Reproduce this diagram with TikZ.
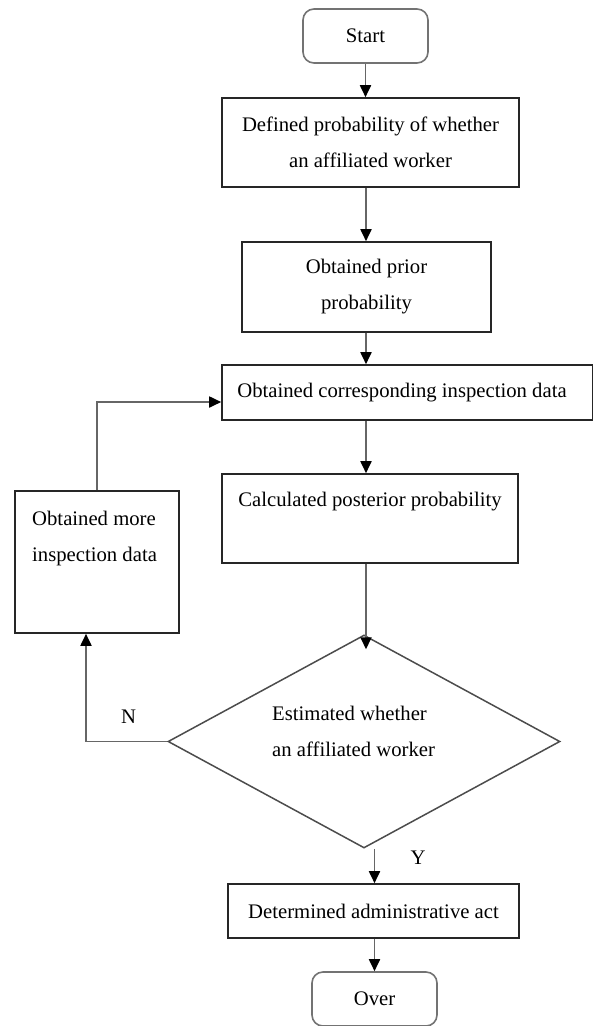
\documentclass[tikz,border=0pt]{standalone}
\usepackage{fontspec}
\setmainfont{Liberation Serif}
\usetikzlibrary{shapes, arrows.meta, positioning}

\begin{document}
\begin{tikzpicture}[x=1pt, y=-1pt,
        every node/.style={font=\fontsize{20.7}{36}\selectfont, inner sep=0pt},
        box/.style={draw=black!85, line width=1.6pt, rectangle},
        term/.style={draw=black!55, line width=1.6pt, rectangle, rounded corners=11pt, minimum width=125pt, minimum height=54pt},
        link/.style={draw=black!60, line width=1.8pt, -{Triangle[length=12pt, width=11pt, color=black]}}]
            \useasboundingbox (0,0) rectangle (593,1026);
            \coordinate (axis) at (366,0);

            \node[term] (start) at (365.5,36) {Start};
            \node[box, minimum width=297pt, minimum height=89pt, align=center] (def) at (370.5,142.5) {Defined probability of whether\\an affiliated worker};
            \node[box, minimum width=249pt, minimum height=90pt, align=center] (prior) at (366.5,287) {Obtained prior\\probability};
            \node[box, minimum width=370.5pt, minimum height=55pt] (insp) at (407.25,392.5) {};
            \node (insptxt) at (402,393) {Obtained corresponding inspection data};
            \node[box, minimum width=296pt, minimum height=89pt] (post) at (370,518.5) {};
            \node (posttxt) at (370,502) {Calculated posterior probability};
            \node[box, minimum width=164pt, minimum height=142pt] (more) at (97,562) {};
            \node[align=left, anchor=west] (moretxt) at (32,539) {Obtained more\\inspection data};

            \node[draw=black!70, line width=1.5pt, diamond, minimum width=392pt, minimum height=213pt] (est) at (364,741.5) {};
            \node[align=left, anchor=west] (esttxt) at (272,731) {Estimated whether\\an affiliated worker};

            \node[box, minimum width=291pt, minimum height=54pt] (act) at (373.5,911) {Determined administrative act};
            \node[term] (over) at (374.5,999) {Over};

            \node (nlab) at (128.5,717) {N};
            \node (ylab) at (418,858) {Y};

            \draw[link] (start.south) -- (start.south |- def.north);
            \draw[link] (axis |- def.south) -- (axis |- prior.north);
            \draw[link] (axis |- prior.south) -- (axis |- insp.north);
            \draw[link] (axis |- insp.south) -- (axis |- post.north);
            \draw[link] (axis |- post.south) -- ([yshift=-15pt]axis |- est.north);
            \draw[link] (est.south -| over.north) -- (act.north -| over.north);
            \draw[link] (act.south -| over.north) -- (over.north);
            \draw[link] (est.west) -| ([xshift=-11pt]more.south);
            \draw[link] (more.north) |- ([yshift=-9.5pt]insp.west);
        \end{tikzpicture}
\end{document}
